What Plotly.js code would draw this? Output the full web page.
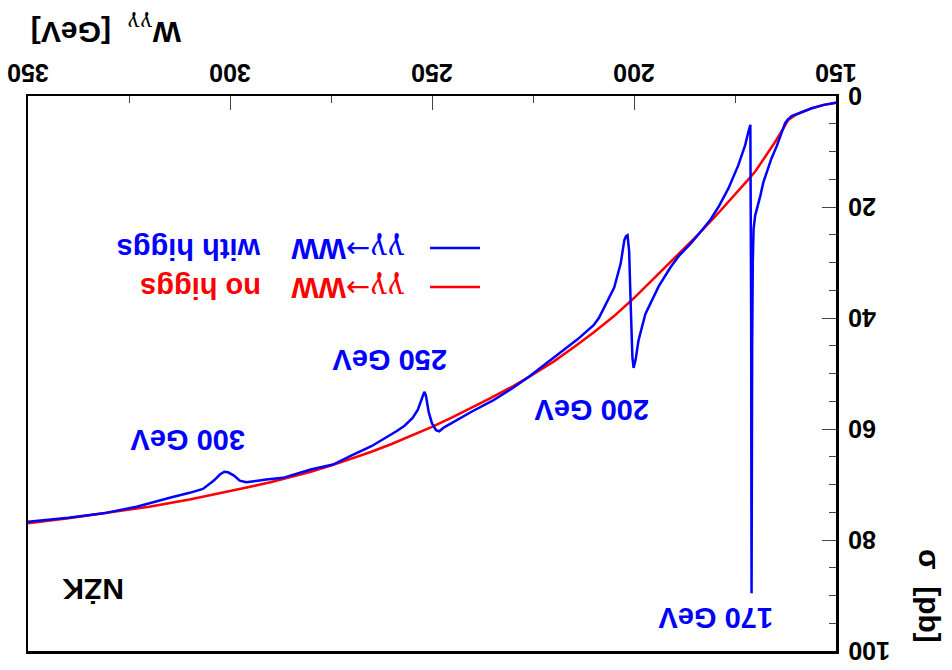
<!DOCTYPE html>
<html><head><meta charset="utf-8">
<script src="https://cdn.plot.ly/plotly-3.0.1.min.js"></script>
<style>body{margin:0;background:#fff}</style>
</head><body><div id="chart" style="width:952px;height:670px"></div>
<script>
// gamma gamma -> WW cross section, no Higgs (red)
const wNoHiggs = [150,153,156,158,160,161.8,162.6,163,165,168,170,172,175,178,180,185,190,195,200,205,210,215,220,226,230,236,240,245,250,255,260,265,270,275,280,290,295,300,310,320,330,340,350];
const sigmaNoHiggs = [1.2,1.6,2.2,2.8,3.4,4.3,5.2,5.8,8.2,11.5,13.6,15.3,17.8,20.2,21.8,25.6,29.2,32.8,36.4,39.7,42.6,45.3,47.9,50.6,52.3,54.6,56.1,57.9,59.6,61.2,62.7,64.1,65.4,66.6,67.7,69.6,70.4,71.2,72.7,74.0,75.1,76.1,77.0];
// gamma gamma -> WW cross section, with Higgs (blue), Higgs masses 170, 200, 250, 300 GeV
const wHiggs = [150,153,156,158,160,161,162,162.6,163.4,164.6,166,167.1,168,168.7,169.5,170,170.4,170.6,170.75,170.85,170.9,170.95,171,171.1,171.2,171.7,172.5,174.2,176.6,179.1,181,184,186,189,191,193.9,195.5,197.2,198.9,199.6,200.1,200.4,200.8,201.2,201.6,202,202.4,203.3,204.9,207.4,208.7,210,213.9,220,226,230,235,240,245,247,248.2,249,250,250.8,251.5,251.9,252.5,253.5,254.8,256.8,258.8,262.9,265,270,274.5,280,286.9,291,294,296,297.6,299,300.5,301.4,302.5,304,306.7,310,314.9,320,323.1,331.3,340,350];
const sigmaHiggs = [1.2,1.6,2.2,2.8,3.3,3.6,4.3,4.9,6.5,8.9,11.3,13.7,15.6,17.9,20.0,21.5,24,30,45,70,89.6,70,40,15,5.2,6.5,8.9,12.5,16.6,20.0,22.2,24.9,26.6,28.9,30.9,34.3,36.6,39.3,44.1,47.5,49.0,47,38,28,25.1,25.3,26,30.2,34.5,38.2,40.0,41.3,43.8,47.2,50.6,52.6,54.9,56.8,58.9,59.7,60.4,60.2,59,57,54,53.3,54.5,56.5,58.0,59.4,60.4,62.2,63.1,64.8,66.4,67.3,68.8,69.1,69.4,69.6,69.3,68.4,67.8,67.7,68.2,69.3,70.8,71.5,72.4,73.4,74.0,75.2,76.0,76.7];
const xTickVals = [150,200,250,300,350];
const yTickVals = [0,20,40,60,80,100];
const massLabels = ['170 GeV','200 GeV','250 GeV','300 GeV'];
const legendProcess = 'γγ→WW';
const legendNames = ['with higgs','no higgs'];
const xTitle = 'W<sub>γγ</sub>  [GeV]';
const yTitle = 'σ  [pb]';
const authorTag = 'NŻK';

const BLUE = '#0000ff', RED = '#ff0000';
const FONT = 'Liberation Sans, Arial, sans-serif';

const traces = [
  {x: wNoHiggs, y: sigmaNoHiggs, type: 'scatter', mode: 'lines', line: {color: RED, width: 2.5}, hoverinfo: 'skip'},
  {x: wHiggs, y: sigmaHiggs, type: 'scatter', mode: 'lines', line: {color: BLUE, width: 2.5}, hoverinfo: 'skip'}
];

// paper position helpers from pixel positions
const L = 28, R = 836, T = 96, B = 651;
const px = v => (v - L) / (R - L);
const py = v => 1 - (v - T) / (B - T);

function ann(text, x, y, opts) {
  return Object.assign({text: text, x: px(x), y: py(y), xref: 'paper', yref: 'paper', showarrow: false,
    textangle: 180, xanchor: 'center', yanchor: 'middle',
    font: {family: FONT, size: 29, weight: 'bold', color: BLUE}}, opts || {});
}
const greek = s => s.replace('γγ', '<span style="font-family:\'DejaVu Serif\';font-weight:normal">γγ</span>')
                    .replace('→', '<span style="font-family:\'DejaVu Sans\';font-weight:normal">→</span>');

const annotations = [
  ann(massLabels[0], 716, 618),
  ann(massLabels[1], 592, 410),
  ann(massLabels[2], 390, 360),
  ann(massLabels[3], 188, 440),
  ann(authorTag, 93, 590, {font: {family: FONT, size: 30, weight: 'bold', color: '#000'}}),
  ann(greek(legendProcess), 348, 249, {font: {family: FONT, size: 29, weight: 'bold', color: BLUE}}),
  ann(greek(legendProcess), 348, 288, {font: {family: FONT, size: 29, weight: 'bold', color: RED}}),
  ann(legendNames[0], 263, 249, {xanchor: 'right', font: {family: FONT, size: 29, weight: 'bold', color: BLUE}}),
  ann(legendNames[1], 263, 288, {xanchor: 'right', font: {family: FONT, size: 29, weight: 'bold', color: RED}}),
  ann(greek(xTitle), 106, 30, {font: {family: FONT, size: 30, weight: 'bold', color: '#000'}}),
  ann(yTitle, 930, 596, {textangle: 90, font: {family: FONT, size: 30, weight: 'bold', color: '#000'}})
];
// y tick labels (upside down, left-aligned right of the axis)
yTickVals.forEach(v => annotations.push({text: String(v), x: px(846), y: v, xref: 'paper', yref: 'y',
  showarrow: false, textangle: 180, xanchor: 'left', yanchor: 'middle',
  font: {family: FONT, size: 25, weight: 'bold', color: '#000'}}));

const shapes = [
  {type: 'line', xref: 'paper', yref: 'paper', x0: px(430), x1: px(480), y0: py(248), y1: py(248), line: {color: BLUE, width: 2.5}},
  {type: 'line', xref: 'paper', yref: 'paper', x0: px(430), x1: px(480), y0: py(287), y1: py(287), line: {color: RED, width: 2.5}}
];

const layout = {
  width: 952, height: 670,
  margin: {l: L, r: 952 - R, t: T, b: 670 - B, pad: 0},
  paper_bgcolor: '#fff', plot_bgcolor: '#fff',
  showlegend: false,
  xaxis: {range: [350, 150], side: 'top', tickvals: xTickVals, ticktext: xTickVals.map(String),
    tickangle: 180, ticks: 'inside', ticklen: 14, tickwidth: 1, tickcolor: '#444', ticklabelstandoff: -5,
    minor: {dtick: 25, tick0: 150, ticks: 'inside', ticklen: 7, tickwidth: 1, tickcolor: '#444', showgrid: false},
    showline: true, linecolor: '#000', linewidth: 2.5, mirror: true, showgrid: false, zeroline: false,
    tickfont: {family: FONT, size: 25, weight: 'bold', color: '#000'}},
  yaxis: {range: [100, 0], side: 'right', tickvals: yTickVals, showticklabels: false,
    ticks: 'inside', ticklen: 14, tickwidth: 1, tickcolor: '#444',
    minor: {dtick: 5, tick0: 0, ticks: 'inside', ticklen: 7, tickwidth: 1, tickcolor: '#444', showgrid: false},
    showline: true, linecolor: '#000', linewidth: 2.5, mirror: true, showgrid: false, zeroline: false},
  annotations: annotations,
  shapes: shapes
};

Plotly.newPlot('chart', traces, layout, {displayModeBar: false, staticPlot: true});
</script></body></html>
